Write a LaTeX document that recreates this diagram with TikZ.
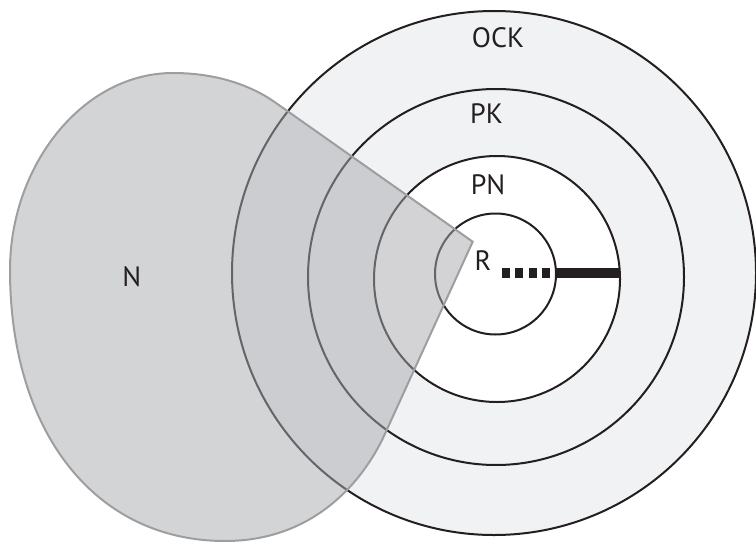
\documentclass[tikz,border=0pt]{standalone}
\usepackage{fontspec}
\setmainfont{PT Sans}
\definecolor{ink}{HTML}{231F20}
\definecolor{ringgray}{HTML}{F1F2F4}
\definecolor{blobgray}{RGB}{168,169,174}
\definecolor{blobline}{RGB}{158,158,160}
\tikzset{
	ring/.style={line width=1.5pt, draw=ink},
	bar/.style={line width=7pt, draw=ink},
	lbl/.style={text=ink, font=\fontsize{21}{25}\selectfont, inner sep=0pt},
}
\begin{document}
\begin{tikzpicture}[x=0.75pt, y=-0.75pt]
	%%%%% START %%%%%
	\useasboundingbox (0, 0) rectangle (756, 542);

	\draw[ring, fill=ringgray] (494, 273) circle (262);
	\draw[ring] (496, 277) circle (188);
	\draw[ring, fill=white] (497, 279) circle (123);
	\draw[ring] (495.5, 274) circle (60.5);

	\draw[bar, dash pattern=on 5.8pt off 4.3pt] (502, 273) -- (550, 273);
	\draw[bar] (555, 273) -- (619, 273);

	% region N
	\draw[line width=1.5pt, draw=blobline, fill=blobgray, fill opacity=0.5]
		(173, 73) .. controls (215, 73) and (250, 84.7) .. (275, 102.3)
		-- (472.7, 241.7) -- (386.7, 430)
		.. controls (365, 480) and (315, 541) .. (225, 541)
		.. controls (95, 541) and (10, 432) .. (10, 270)
		.. controls (10, 165) and (83, 73) .. cycle;

	\node[lbl] (ock) at (498, 37.5) {OCK};
	\node[lbl] (pk) at (486.5, 113.5) {PK};
	\node[lbl] (pn) at (488, 185) {PN};
	\node[lbl] (r) at (483, 260.7) {R};
	\node[lbl] (n) at (131.7, 276.7) {N};
	%%%%% END %%%%%
\end{tikzpicture}
\end{document}
